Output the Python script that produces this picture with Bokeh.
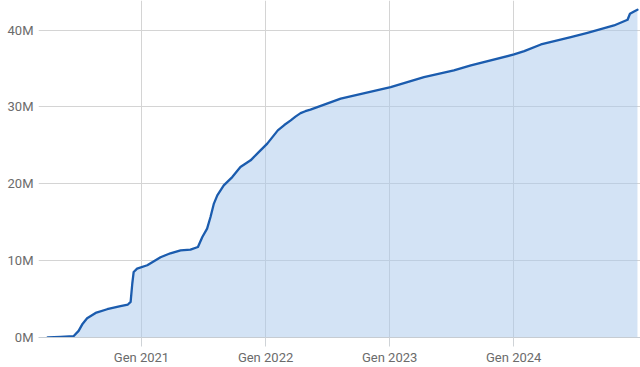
from datetime import datetime
from bokeh.plotting import figure
from bokeh.models import Range1d, FixedTicker, ColumnDataSource
from bokeh.embed import file_html
from bokeh.resources import INLINE

# --- data (cumulative total, millions) ---
dates = [
    "2020-03-31", "2020-05-08", "2020-06-15", "2020-06-30", "2020-07-12", "2020-07-25",
    "2020-08-19", "2020-09-22", "2020-10-31", "2020-11-22", "2020-11-30", "2020-12-05",
    "2020-12-09", "2020-12-19", "2021-01-18", "2021-02-26", "2021-03-27", "2021-04-26",
    "2021-05-25", "2021-06-16", "2021-06-29", "2021-07-13", "2021-07-23", "2021-08-02",
    "2021-08-12", "2021-08-31", "2021-09-25", "2021-10-19", "2021-11-18", "2021-12-17",
    "2022-01-06", "2022-02-06", "2022-02-25", "2022-03-16", "2022-03-30", "2022-04-14",
    "2022-04-28", "2022-05-13", "2022-08-10", "2023-01-04", "2023-04-12", "2023-07-09",
    "2023-08-28", "2024-01-02", "2024-02-01", "2024-03-21", "2024-06-17", "2024-08-05",
    "2024-10-22", "2024-12-01", "2024-12-08", "2024-12-20", "2024-12-30",
]
values = [
    0.0, 0.08, 0.17, 0.86, 1.8, 2.51,
    3.2, 3.68, 4.07, 4.29, 4.63, 7.06,
    8.53, 8.97, 9.4, 10.44, 10.96, 11.35,
    11.44, 11.78, 13.08, 14.17, 15.68, 17.43,
    18.5, 19.8, 20.88, 22.18, 23.06, 24.36,
    25.23, 26.96, 27.65, 28.26, 28.75, 29.2,
    29.45, 29.65, 31.08, 32.59, 33.89, 34.76,
    35.41, 36.84, 37.27, 38.14, 39.09, 39.66,
    40.61, 41.35, 42.13, 42.43, 42.65,
]
x_tick_dates = ["2021-01-01", "2022-01-01", "2023-01-01", "2024-01-01"]
x_tick_labels = ["Gen 2021", "Gen 2022", "Gen 2023", "Gen 2024"]
y_ticks = [0, 10, 20, 30, 40]
y_tick_labels = ["0M", "10M", "20M", "30M", "40M"]

def to_ms(s):
    return (datetime.strptime(s, "%Y-%m-%d") - datetime(1970, 1, 1)).total_seconds() * 1000.0

xs = [datetime.strptime(d, "%Y-%m-%d") for d in dates]
src = ColumnDataSource(dict(x=xs, y=values, y0=[0.0] * len(values)))

FONT = "Roboto"
LABEL_COLOR = "#6b6b6b"
GRID_COLOR = "#d4d4d4"

p = figure(
    width=640, height=367,
    x_axis_type="datetime",
    x_range=Range1d(datetime(2020, 3, 4), datetime(2025, 1, 8)),
    y_range=Range1d(0, 43.86),
    output_backend="svg", toolbar_location=None,
    min_border_left=38, min_border_right=0, min_border_top=0, min_border_bottom=30,
)
p.outline_line_color = None
p.background_fill_color = "white"
p.border_fill_color = "white"

p.varea(x="x", y1="y0", y2="y", source=src, fill_color="#a8c8ec", fill_alpha=0.5)
p.line(x="x", y="y", source=src, line_color="#1b5cae", line_width=2.3,
       line_join="round", line_cap="round")

# grids
p.xgrid.ticker = FixedTicker(ticks=[to_ms(d) for d in x_tick_dates])
p.ygrid.ticker = FixedTicker(ticks=y_ticks)
p.xgrid.grid_line_color = GRID_COLOR
p.ygrid.grid_line_color = GRID_COLOR
p.xgrid.grid_line_width = 1
p.ygrid.grid_line_width = 1

# x axis
xa = p.xaxis[0]
xa.ticker = FixedTicker(ticks=[to_ms(d) for d in x_tick_dates])
xa.major_label_overrides = {to_ms(d): lab for d, lab in zip(x_tick_dates, x_tick_labels)}
xa.axis_line_color = "#c6ccd2"
xa.major_tick_line_color = "#cfd3d7"
xa.major_tick_out = 9
xa.major_tick_in = 0
xa.minor_tick_line_color = None
xa.major_label_standoff = 3
xa.major_label_text_font = FONT
xa.major_label_text_font_size = "13px"
xa.major_label_text_color = LABEL_COLOR

# y axis
ya = p.yaxis[0]
ya.ticker = FixedTicker(ticks=y_ticks)
ya.major_label_overrides = {t: lab for t, lab in zip(y_ticks, y_tick_labels)}
ya.axis_line_color = None
ya.major_tick_line_color = None
ya.minor_tick_line_color = None
ya.major_tick_out = 0
ya.major_tick_in = 0
ya.major_label_standoff = 5
ya.major_label_text_font = FONT
ya.major_label_text_font_size = "13px"
ya.major_label_text_color = LABEL_COLOR

open("out.html", "w").write(file_html(p, INLINE))
